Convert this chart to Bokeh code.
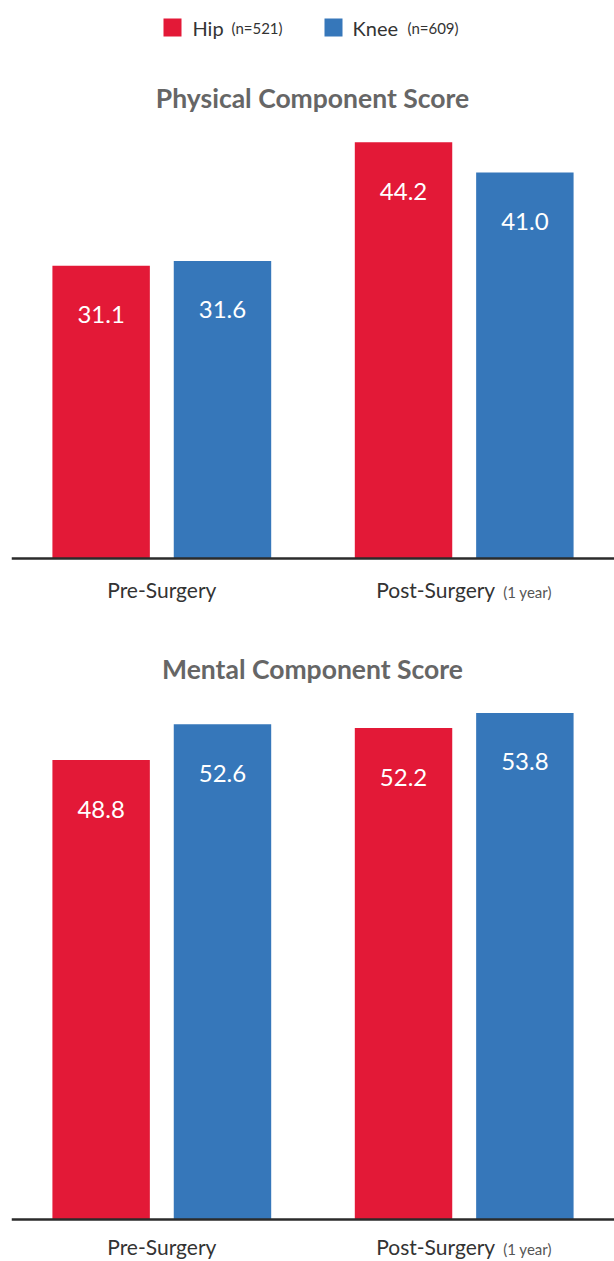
from bokeh.plotting import figure
from bokeh.models import FactorRange, Range1d, Span, Label, BoxAnnotation, ColumnDataSource
from bokeh.layouts import column
from bokeh.embed import file_html
from bokeh.resources import INLINE
from bokeh.core.properties import value
from bokeh.transform import factor_cmap

# ---- data -------------------------------------------------------------
categories = ["Pre-Surgery", "Post-Surgery"]
category_notes = ["", "(1 year)"]
series = ["Hip", "Knee"]
series_counts = ["(n=521)", "(n=609)"]

physical_hip = [31.1, 44.2]
physical_knee = [31.6, 41.0]
mental_hip = [48.8, 52.2]
mental_knee = [52.6, 53.8]

# ---- style ------------------------------------------------------------
RED = "#E31937"
BLUE = "#3677BA"
COLORS = [RED, BLUE]
FONT = "Lato"
TITLE_COLOR = "#666666"
TEXT_COLOR = "#333333"
PX_PER_UNIT = 9.415
WIDTH = 614
LEFT = 11


def panel(title, hip, knee, height, baseline_px, title_px, label_offset, legend=False):
    factors = [(c, s) for c in categories for s in series]
    tops, names = [], []
    for i in range(len(categories)):
        tops += [hip[i], knee[i]]
        names += series
    src = ColumnDataSource(dict(
        x=factors, top=tops, series=names,
        label=[f"{v:.1f}" for v in tops],
    ))

    x_range = FactorRange(*factors, factor_padding=0.0, group_padding=0.492,
                          range_padding=0.2387, range_padding_units="absolute")
    y_range = Range1d(-(height - baseline_px) / PX_PER_UNIT, baseline_px / PX_PER_UNIT)

    p = figure(width=WIDTH, height=height, x_range=x_range, y_range=y_range,
               output_backend="svg", toolbar_location=None,
               min_border=0, min_border_left=LEFT)
    p.xaxis.visible = False
    p.yaxis.visible = False
    p.grid.visible = False
    p.outline_line_color = None
    p.background_fill_color = "white"
    p.border_fill_color = "white"

    p.vbar(x="x", top="top", bottom=0, width=0.803, source=src, line_color=None,
           fill_color=factor_cmap("x", palette=COLORS, factors=series, start=1, end=2))

    p.text(x="x", y="top", text="label", source=src, text_color="white",
           text_font=value(FONT), text_font_size="24px", text_align="center",
           text_baseline="middle", y_offset=49)

    p.add_layout(Span(location=0, dimension="width", line_color="#2b2b2b", line_width=2.5))

    # category labels under the baseline
    for cat, note in zip(categories, category_notes):
        if note:
            p.text(x=[cat], y=[0], text=[cat], text_color=TEXT_COLOR,
                   text_font=value(FONT), text_font_size="21px", text_align="right",
                   text_baseline="middle", x_offset=31, y_offset=label_offset)
            p.text(x=[cat], y=[0], text=[note], text_color="#555555",
                   text_font=value(FONT), text_font_size="15px", text_align="left",
                   text_baseline="middle", x_offset=39, y_offset=label_offset + 2)
        else:
            p.text(x=[cat], y=[0], text=[cat], text_color=TEXT_COLOR,
                   text_font=value(FONT), text_font_size="21px", text_align="center",
                   text_baseline="middle", y_offset=label_offset)

    p.add_layout(Label(x=312 - LEFT, x_units="screen",
                       y=(baseline_px - title_px) / PX_PER_UNIT, y_units="data",
                       text=title, text_align="center", text_baseline="middle",
                       text_font=FONT, text_font_style="bold", text_font_size="26.5px",
                       text_color=TITLE_COLOR))

    if legend:
        ly = (baseline_px - 27) / PX_PER_UNIT
        half = 9 / PX_PER_UNIT
        swatch_left = [163, 324]
        name_x = [192, 352]
        count_x = [231, 407]
        for i, name in enumerate(series):
            p.add_layout(BoxAnnotation(left=swatch_left[i] - LEFT, right=swatch_left[i] - LEFT + 18,
                                       left_units="screen", right_units="screen",
                                       top=ly + half, bottom=ly - half,
                                       fill_color=COLORS[i], fill_alpha=1.0, line_color=None))
            p.add_layout(Label(x=name_x[i] - LEFT, x_units="screen", y=ly, text=name,
                               text_align="left", text_baseline="middle",
                               text_font=FONT, text_font_size="20px", text_color=TEXT_COLOR))
            p.add_layout(Label(x=count_x[i] - LEFT, x_units="screen", y=ly - 0.05, text=series_counts[i],
                               text_align="left", text_baseline="middle",
                               text_font=FONT, text_font_size="15px", text_color=TEXT_COLOR))
    return p


top_panel = panel("Physical Component Score", physical_hip, physical_knee,
                  height=630, baseline_px=558, title_px=97, label_offset=31, legend=True)
bottom_panel = panel("Mental Component Score", mental_hip, mental_knee,
                     height=631, baseline_px=589, title_px=38, label_offset=27)

layout = column(top_panel, bottom_panel, spacing=0)
open("out.html", "w").write(file_html(layout, INLINE))
